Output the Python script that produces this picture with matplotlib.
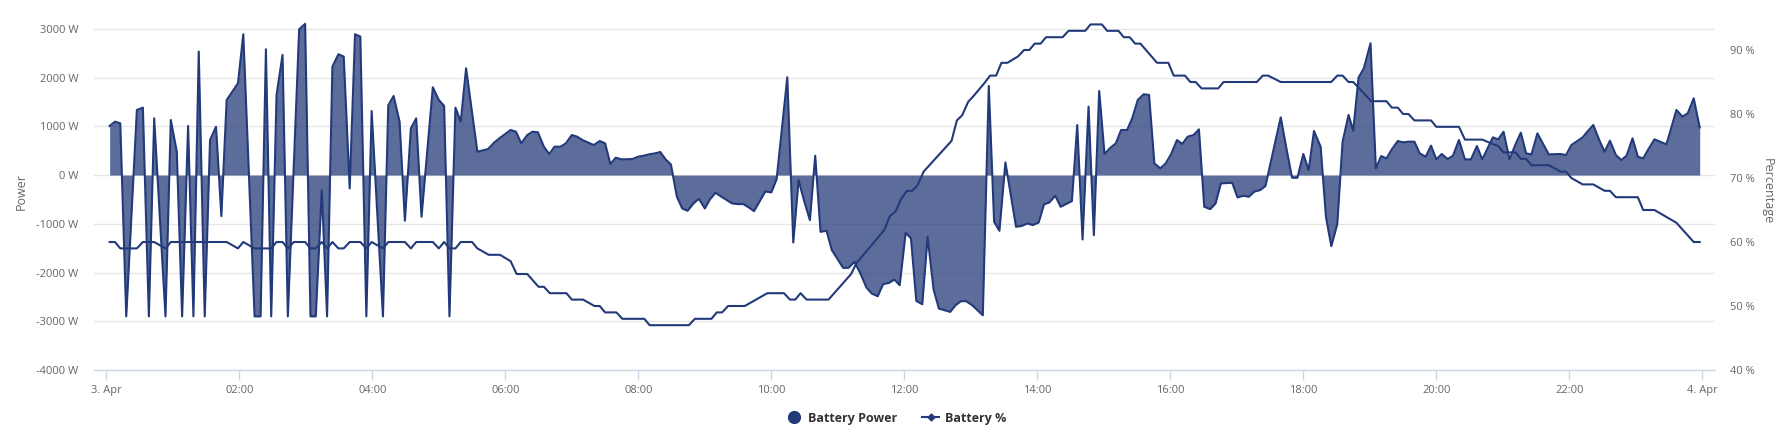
import matplotlib
matplotlib.use("Agg")
import matplotlib.pyplot as plt
from matplotlib.lines import Line2D

# battery power (W), time in hours since 3. Apr 00:00
power_hours = [
    0.05, 0.13, 0.21, 0.30, 0.46, 0.55, 0.64, 0.72, 0.89, 0.97, 1.06, 1.14, 1.23, 1.31, 1.39, 1.48,
    1.56, 1.65, 1.73, 1.81, 1.98, 2.06, 2.23, 2.32, 2.40, 2.48, 2.56, 2.65, 2.73, 2.90, 2.99, 3.07,
    3.15, 3.24, 3.32, 3.40, 3.49, 3.57, 3.66, 3.74, 3.82, 3.91, 3.99, 4.16, 4.24, 4.32, 4.41, 4.49,
    4.58, 4.66, 4.74, 4.91, 5.00, 5.08, 5.16, 5.25, 5.33, 5.41, 5.58, 5.74, 5.83, 5.91, 6.08, 6.16,
    6.24, 6.33, 6.41, 6.49, 6.58, 6.66, 6.74, 6.83, 6.91, 7.00, 7.08, 7.16, 7.25, 7.33, 7.42, 7.50,
    7.58, 7.66, 7.75, 7.91, 8.00, 8.08, 8.16, 8.25, 8.33, 8.41, 8.49, 8.58, 8.66, 8.74, 8.83, 8.91,
    9.00, 9.08, 9.16, 9.25, 9.33, 9.41, 9.50, 9.58, 9.66, 9.74, 9.91, 10.00, 10.08, 10.24, 10.33,
    10.41, 10.49, 10.58, 10.66, 10.74, 10.83, 10.91, 11.08, 11.16, 11.25, 11.34, 11.43, 11.51,
    11.60, 11.68, 11.77, 11.85, 11.93, 12.02, 12.10, 12.18, 12.27, 12.35, 12.44, 12.52, 12.69,
    12.77, 12.85, 12.93, 13.02, 13.18, 13.27, 13.35, 13.43, 13.52, 13.68, 13.77, 13.85, 13.93,
    14.02, 14.10, 14.18, 14.27, 14.35, 14.43, 14.52, 14.60, 14.68, 14.77, 14.85, 14.93, 15.01,
    15.10, 15.18, 15.26, 15.35, 15.43, 15.51, 15.60, 15.68, 15.76, 15.85, 15.93, 16.01, 16.10,
    16.18, 16.26, 16.35, 16.43, 16.51, 16.60, 16.68, 16.76, 16.93, 17.01, 17.10, 17.18, 17.26,
    17.35, 17.43, 17.66, 17.75, 17.83, 17.91, 18.00, 18.08, 18.16, 18.26, 18.34, 18.42, 18.51,
    18.59, 18.68, 18.75, 18.83, 18.91, 19.01, 19.09, 19.17, 19.25, 19.33, 19.42, 19.50, 19.58,
    19.67, 19.75, 19.84, 19.92, 20.00, 20.08, 20.17, 20.25, 20.34, 20.43, 20.52, 20.61, 20.69,
    20.85, 20.93, 21.01, 21.10, 21.19, 21.27, 21.35, 21.43, 21.52, 21.60, 21.69, 21.87, 21.95,
    22.03, 22.12, 22.20, 22.27, 22.36, 22.45, 22.53, 22.61, 22.70, 22.78, 22.86, 22.95, 23.03,
    23.11, 23.19, 23.28, 23.46, 23.61, 23.70, 23.78, 23.87, 23.96,
]
power_w = [
    1007, 1096, 1062, -2900, 1336, 1384, -2900, 1164, -2900, 1130, 479, -2900, 1007, -2900, 2534, -2900,
    719, 993, -842, 1541, 1884, 2890, -2900, -2900, 2582, -2900, 1644, 2466, -2900, 2993, 3103, -2900,
    -2900, -308, -2900, 2226, 2479, 2432, -274, 2890, 2842, -2900, 1315, -2900, 1432, 1623, 1096, -938,
    959, 1164, -856, 1801, 1541, 1418, -2900, 1384, 1096, 2192, 479, 534, 664, 753, 925, 890,
    651, 822, 890, 877, 582, 432, 582, 582, 651, 822, 788, 719, 664, 616, 699, 651,
    226, 356, 322, 329, 377, 397, 425, 445, 473, 322, 219, -445, -685, -733, -582, -486,
    -685, -493, -363, -445, -514, -582, -596, -596, -664, -740, -336, -356, -82, 2007, -1384,
    -103, -514, -925, 397, -1164, -1144, -1541, -1904, -1904, -1780, -2021, -2308, -2432,
    -2486, -2240, -2212, -2144, -2260, -1185, -1301, -2582, -2651, -1267, -2349, -2740, -2808,
    -2671, -2589, -2589, -2671, -2877, 1829, -959, -1144, 260, -1062, -1041, -993, -1027,
    -973, -603, -562, -425, -651, -596, -534, 1027, -1322, 1404, -1233, 1726, 432,
    562, 651, 925, 925, 1178, 1541, 1658, 1644, 240, 137, 240, 425, 719,
    637, 788, 822, 938, -651, -699, -582, -171, -158, -459, -425, -445, -342,
    -308, -226, 1185, 514, -55, -55, 432, 103, 904, 582, -856, -1459, -1007,
    685, 1233, 911, 2000, 2192, 2705, 137, 390, 342, 527, 699, 671, 685,
    685, 445, 377, 603, 322, 432, 329, 397, 719, 322, 322, 596, 322,
    774, 733, 890, 322, 630, 870, 445, 425, 856, 651, 425, 432, 411,
    616, 699, 774, 890, 1027, 719, 479, 705, 411, 308, 397, 753, 377,
    342, 534, 733, 630, 1336, 1199, 1267, 1575, 979,
]

# battery state of charge (%)
pct_hours = [
    0.05, 0.13, 0.21, 0.46, 0.55, 0.72, 0.89, 0.97, 1.81, 1.98, 2.06, 2.23, 2.48, 2.56, 2.65, 2.73,
    2.82, 2.99, 3.07, 3.15, 3.24, 3.32, 3.40, 3.49, 3.57, 3.66, 3.82, 3.91, 3.99, 4.16, 4.24, 4.49,
    4.58, 4.66, 4.91, 5.00, 5.08, 5.16, 5.25, 5.33, 5.50, 5.58, 5.75, 5.92, 6.08, 6.17, 6.33, 6.50,
    6.58, 6.67, 6.92, 7.00, 7.17, 7.34, 7.42, 7.50, 7.67, 7.76, 8.09, 8.17, 8.76, 8.85, 9.10, 9.18,
    9.26, 9.35, 9.60, 9.94, 10.19, 10.28, 10.36, 10.44, 10.53, 10.86, 11.20, 11.28, 11.70, 11.78,
    11.87, 11.95, 12.04, 12.12, 12.20, 12.29, 12.71, 12.79, 12.87, 12.96, 13.04, 13.21, 13.29,
    13.38, 13.46, 13.55, 13.71, 13.80, 13.88, 13.96, 14.05, 14.13, 14.38, 14.47, 14.72, 14.80,
    14.97, 15.05, 15.22, 15.30, 15.39, 15.47, 15.55, 15.80, 15.97, 16.05, 16.22, 16.30, 16.38,
    16.47, 16.72, 16.80, 17.30, 17.39, 17.47, 17.66, 18.42, 18.51, 18.59, 18.68, 18.75, 19.02,
    19.25, 19.33, 19.42, 19.50, 19.58, 19.67, 19.92, 20.00, 20.34, 20.43, 20.69, 20.85, 20.93,
    21.01, 21.19, 21.27, 21.35, 21.43, 21.69, 21.87, 21.95, 22.03, 22.20, 22.36, 22.53, 22.61,
    22.70, 23.03, 23.11, 23.28, 23.61, 23.87, 23.96,
]
pct_vals = [
    60, 60, 59, 59, 60, 60, 59, 60, 60, 59, 60, 59, 59, 60, 60, 59,
    60, 60, 59, 59, 60, 59, 60, 59, 59, 60, 60, 59, 60, 59, 60, 60,
    59, 60, 60, 59, 60, 59, 59, 60, 60, 59, 58, 58, 57, 55, 55, 53,
    53, 52, 52, 51, 51, 50, 50, 49, 49, 48, 48, 47, 47, 48, 48, 49,
    49, 50, 50, 52, 52, 51, 51, 52, 51, 51, 55, 56.7, 61.9, 64,
    64.8, 66.7, 68, 68, 68.9, 71, 75.8, 79, 79.8, 81.9, 82.8, 84.9, 86,
    86, 88, 88, 89, 90, 90, 91, 91, 92, 92, 93, 93, 94,
    94, 93, 93, 92, 92, 91, 91, 88, 88, 86, 86, 85, 85,
    84, 84, 85, 85, 86, 86, 85, 85, 86, 86, 85, 85, 82,
    82, 81, 81, 80, 80, 79, 79, 78, 78, 76, 76, 75.3, 75,
    74, 74, 73, 73, 72, 72, 71, 71, 70, 69, 69, 68, 68,
    67, 67, 65, 65, 63, 60, 60,
]

x_ticks = list(range(0, 25, 2))
x_labels = ["3. Apr"] + [f"{h:02d}:00" for h in range(2, 24, 2)] + ["4. Apr"]

navy = "#233a7a"
grey_text = "#666666"

plt.rcParams["font.family"] = ["Open Sans", "DejaVu Sans"]

fig = plt.figure(figsize=(17.92, 4.48), dpi=100)
ax = fig.add_axes([94 / 1792, (448 - 370) / 448, (1715 - 94) / 1792, (370 - 12) / 448])
ax2 = ax.twinx()

ax.fill_between(power_hours, power_w, 0, color=navy, alpha=0.74, lw=0, zorder=2)
ax.plot(power_hours, power_w, color=navy, lw=1.5, zorder=3)
ax2.plot(pct_hours, pct_vals, color=navy, lw=1.5, zorder=4)

ax.set_xlim(-0.185, 24.19)
ax.set_ylim(-4000, 3346)
ax2.set_ylim(40, 95.94)

ax.set_yticks(range(-4000, 3001, 1000))
ax.set_yticklabels([f"{v} W" for v in range(-4000, 3001, 1000)])
ax2.set_yticks(range(40, 91, 10))
ax2.set_yticklabels([f"{v} %" for v in range(40, 91, 10)])
ax.set_xticks(x_ticks)
ax.set_xticklabels(x_labels)

ax.grid(axis="y", color="#e6e6e6", lw=1)
ax.set_axisbelow(True)

for a in (ax, ax2):
    for s in a.spines.values():
        s.set_visible(False)
ax.spines["bottom"].set_visible(True)
ax.spines["bottom"].set_color("#ccd6eb")
ax.spines["bottom"].set_linewidth(1)

ax.tick_params(axis="x", colors="#ccd6eb", length=7, width=1, labelcolor=grey_text, labelsize=8, pad=4)
ax.tick_params(axis="y", length=0, labelcolor=grey_text, labelsize=8, pad=11)
ax2.tick_params(axis="y", length=0, labelcolor=grey_text, labelsize=8, pad=11)

ax.set_ylabel("Power", color=grey_text, fontsize=9, va="center")
ax2.set_ylabel("Percentage", color=grey_text, fontsize=9, rotation=270, va="center")
ax.yaxis.set_label_coords(-0.045, 0.5)
ax2.yaxis.set_label_coords(1.032, 0.5)

handles = [
    Line2D([], [], color=navy, marker="o", ls="none", markersize=8.5),
    Line2D([], [], color=navy, marker="D", markersize=3.5, lw=1.5),
]
fig.legend(handles, ["Battery Power", "Battery %"], loc="center",
           bbox_to_anchor=(0.5, 1 - 418 / 448), ncol=2, frameon=False,
           prop={"weight": "bold", "size": 9}, labelcolor="#333333",
           handlelength=1.3, handletextpad=0.5, columnspacing=2.0)

fig.savefig("out.png", dpi=100)
